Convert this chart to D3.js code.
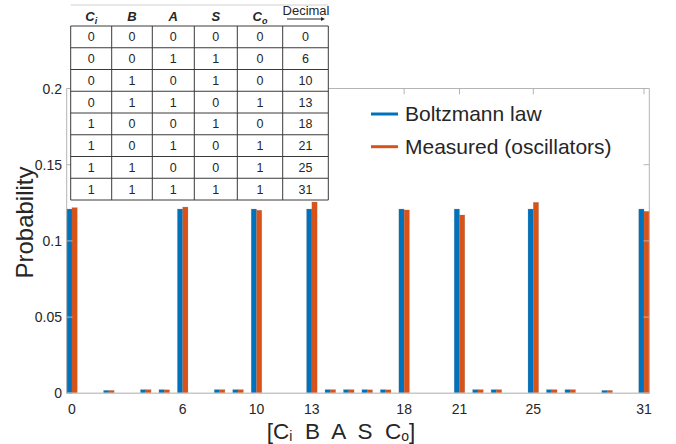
<!DOCTYPE html>
<html>
<head>
<meta charset="utf-8">
<script src="https://cdn.jsdelivr.net/npm/d3@7"></script>
<style>
  html, body { margin: 0; padding: 0; background: #fff; }
  svg { display: block; }
  text { font-family: "Liberation Sans", Arial, sans-serif; fill: #262626; }
</style>
</head>
<body>
<svg id="chart" width="676" height="444"></svg>
<script>
// States of the full adder, encoded as [Ci B A S Co] -> decimal 0..31
const states = d3.range(32);

// Probability predicted by the Boltzmann law
const boltzmann = [
  0.1209, 0, 0.0019, 0, 0.0024, 0.0024, 0.1209, 0,
  0.0024, 0.0024, 0.1209, 0, 0, 0.1209, 0.0024, 0.0024,
  0.0024, 0.0024, 0.1209, 0, 0, 0.1209, 0.0024, 0.0024,
  0, 0.1209, 0.0024, 0.0024, 0, 0.0019, 0, 0.1209
];

// Probability measured on the oscillator network
const measured = [
  0.1218, 0, 0.0019, 0, 0.0024, 0.0023, 0.1222, 0,
  0.0024, 0.0024, 0.1201, 0, 0, 0.1255, 0.0024, 0.0024,
  0.0023, 0.0023, 0.1203, 0, 0, 0.1170, 0.0024, 0.0024,
  0, 0.1253, 0.0024, 0.0024, 0, 0.0019, 0, 0.1194
];

const xTicks = [0, 6, 10, 13, 18, 21, 25, 31];
const yTicks = [0, 0.05, 0.1, 0.15, 0.2];
const yTickLabels = ["0", "0.05", "0.1", "0.15", "0.2"];

const seriesNames = ["Boltzmann law", "Measured (oscillators)"];
const seriesColors = ["#0072BD", "#D95319"];

// Truth table of the valid adder states
const tableHeaders = ["C_i", "B", "A", "S", "C_o", "Decimal"];
const tableBits = [
  [0, 0, 0, 0, 0],
  [0, 0, 1, 1, 0],
  [0, 1, 0, 1, 0],
  [0, 1, 1, 0, 1],
  [1, 0, 0, 1, 0],
  [1, 0, 1, 0, 1],
  [1, 1, 0, 0, 1],
  [1, 1, 1, 1, 1]
];
const tableDecimal = [0, 6, 10, 13, 18, 21, 25, 31];

// ---- layout ----
const plot = { left: 66.7, right: 649.3, top: 88.5, bottom: 393.3 };
const groupWidth = 0.5714;   // fraction of a category occupied by a bar pair

const svg = d3.select("#chart");

const x = d3.scaleLinear()
  .domain([-groupWidth / 2, 31 + groupWidth / 2])
  .range([plot.left, plot.right]);
const y = d3.scaleLinear()
  .domain([0, 0.2])
  .range([plot.bottom, plot.top]);

const barW = x(groupWidth / 2) - x(0);
const axisColor = "#b4b4b4";
const tickLen = 5.8;

// ---- bars ----
const series = [boltzmann, measured];
series.forEach((vals, s) => {
  svg.append("g")
    .selectAll("rect")
    .data(states.filter(i => vals[i] > 0))
    .join("rect")
    .attr("x", i => x(i) - barW + s * barW)
    .attr("y", i => y(vals[i]))
    .attr("width", barW)
    .attr("height", i => y(0) - y(vals[i]))
    .attr("fill", seriesColors[s])
    .attr("stroke", "rgba(120,120,120,0.35)")
    .attr("stroke-width", 0.6);
});

// ---- axes box ----
const box = svg.append("g").attr("fill", "none").attr("stroke", axisColor).attr("stroke-width", 1);
box.append("line").attr("x1", plot.left).attr("x2", plot.right).attr("y1", plot.top).attr("y2", plot.top);
box.append("line").attr("x1", plot.right).attr("x2", plot.right).attr("y1", plot.top).attr("y2", plot.bottom);
box.append("line").attr("x1", plot.left).attr("x2", plot.left).attr("y1", plot.top).attr("y2", plot.bottom);
// bar baseline
svg.append("line")
  .attr("x1", plot.left).attr("x2", plot.right)
  .attr("y1", y(0)).attr("y2", y(0))
  .attr("stroke", "#c8c8c8").attr("stroke-width", 1.6);

// inward ticks on all four sides
const ticks = svg.append("g").attr("stroke", axisColor).attr("stroke-width", 1);
ticks.selectAll(".yl").data(yTicks).join("line")
  .attr("x1", plot.left).attr("x2", plot.left + tickLen)
  .attr("y1", d => y(d)).attr("y2", d => y(d));
ticks.selectAll(".yr").data(yTicks).join("line")
  .attr("x1", plot.right).attr("x2", plot.right - tickLen)
  .attr("y1", d => y(d)).attr("y2", d => y(d));
ticks.selectAll(".xt").data(xTicks).join("line")
  .attr("x1", d => x(d)).attr("x2", d => x(d))
  .attr("y1", plot.top).attr("y2", plot.top + tickLen);

// tick labels
svg.append("g").selectAll("text").data(yTicks).join("text")
  .attr("x", 62).attr("y", d => y(d))
  .attr("dy", "0.36em")
  .attr("text-anchor", "end")
  .attr("font-size", 14)
  .text((d, i) => yTickLabels[i]);

svg.append("g").selectAll("text").data(xTicks).join("text")
  .attr("x", d => x(d)).attr("y", 413.5)
  .attr("text-anchor", "middle")
  .attr("font-size", 14)
  .text(d => d);

// axis titles
svg.append("text")
  .attr("transform", "translate(32.5,222.5) rotate(-90)")
  .attr("text-anchor", "middle")
  .attr("font-size", 24)
  .text("Probability");

const xl = svg.append("text")
  .attr("x", 341).attr("y", 438.5)
  .attr("text-anchor", "middle")
  .attr("font-size", 22.5)
  .attr("xml:space", "preserve");
xl.append("tspan").text("[C");
xl.append("tspan").attr("font-size", 14).attr("dy", 2.5).text("i");
xl.append("tspan").attr("dy", -2.5).text("  B  A  S  C");
xl.append("tspan").attr("font-size", 14).attr("dy", 2.5).text("o");
xl.append("tspan").attr("dy", -2.5).text("]");

// ---- legend ----
const legend = svg.append("g");
seriesNames.forEach((name, i) => {
  const ly = 114 + i * 32.7;
  legend.append("line")
    .attr("x1", 371).attr("x2", 398)
    .attr("y1", ly).attr("y2", ly)
    .attr("stroke", seriesColors[i]).attr("stroke-width", 3);
  legend.append("text")
    .attr("x", 405).attr("y", ly)
    .attr("dy", "0.35em")
    .attr("font-size", 21)
    .attr("fill", "#1a1a1a")
    .text(name);
});

// ---- truth table inset ----
const colX = [70.7, 111.7, 152.3, 194.3, 237.3, 282.7, 328.3];
const headTop = 5, headBottom = 26, rowH = 21.75;
const tableBottom = headBottom + rowH * tableBits.length;
const tbl = svg.append("g");

tbl.append("rect")
  .attr("x", colX[0]).attr("y", headTop)
  .attr("width", colX[6] - colX[0]).attr("height", tableBottom - headTop)
  .attr("fill", "#fff");
tbl.append("line")
  .attr("x1", colX[0]).attr("x2", colX[6])
  .attr("y1", headTop).attr("y2", headTop)
  .attr("stroke", "#d0d0d0").attr("stroke-width", 1);

// grid
const gridColor = "#3a3a3a";
d3.range(tableBits.length + 1).forEach(r => {
  tbl.append("line")
    .attr("x1", colX[0]).attr("x2", colX[6])
    .attr("y1", headBottom + r * rowH).attr("y2", headBottom + r * rowH)
    .attr("stroke", gridColor).attr("stroke-width", 1);
});
colX.forEach(cx => {
  tbl.append("line")
    .attr("x1", cx).attr("x2", cx)
    .attr("y1", headBottom).attr("y2", tableBottom)
    .attr("stroke", gridColor).attr("stroke-width", 1);
});

// header labels
tableHeaders.forEach((h, c) => {
  const cx = (colX[c] + colX[c + 1]) / 2;
  if (h === "Decimal") {
    tbl.append("text")
      .attr("x", cx + 24).attr("y", 15)
      .attr("text-anchor", "end")
      .attr("font-size", 13)
      .text(h);
    tbl.append("line")
      .attr("x1", 287).attr("x2", 321)
      .attr("y1", 19).attr("y2", 19)
      .attr("stroke", "#262626").attr("stroke-width", 1);
    tbl.append("path")
      .attr("d", "M321,17 L325,19 L321,21 Z")
      .attr("fill", "#262626");
  } else {
    const t = tbl.append("text")
      .attr("x", cx).attr("y", 21)
      .attr("text-anchor", "middle")
      .attr("font-size", 13)
      .attr("font-weight", "bold")
      .attr("font-style", "italic");
    const parts = h.split("_");
    t.append("tspan").text(parts[0]);
    if (parts[1]) {
      t.append("tspan").attr("font-size", 9).attr("dy", 3).text(parts[1]);
    }
  }
});

// body cells
tableBits.forEach((row, r) => {
  const cy = headBottom + r * rowH + rowH / 2;
  row.concat([tableDecimal[r]]).forEach((v, c) => {
    tbl.append("text")
      .attr("x", (colX[c] + colX[c + 1]) / 2)
      .attr("y", cy)
      .attr("dy", "0.36em")
      .attr("text-anchor", "middle")
      .attr("font-size", 12.5)
      .text(v);
  });
});
</script>
</body>
</html>
